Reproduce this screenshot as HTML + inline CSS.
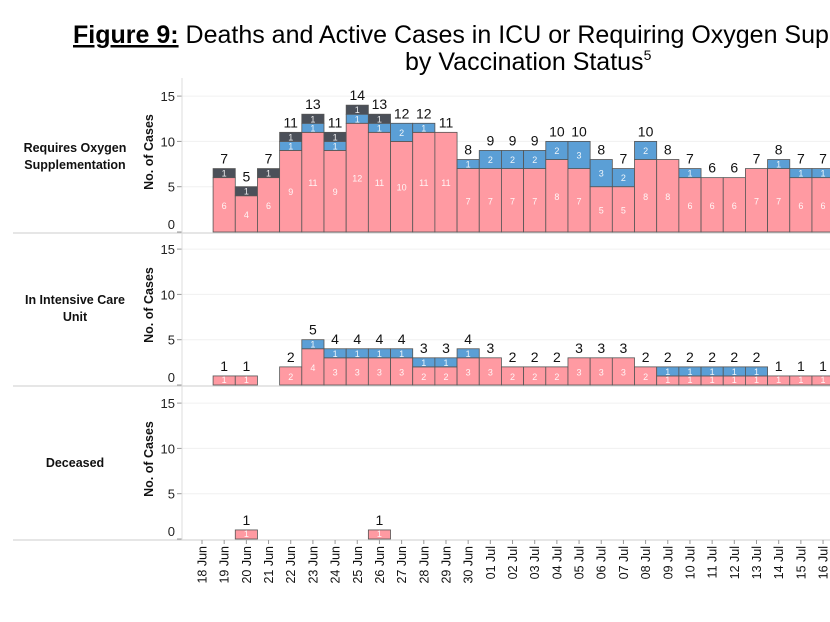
<!DOCTYPE html>
<html><head><meta charset="utf-8"><style>
body{margin:0;background:#fff;width:830px;height:622px;overflow:hidden}
svg{display:block;font-family:"Liberation Sans","DejaVu Sans",sans-serif}
</style></head><body>
<svg id="s" width="830" height="622" xmlns="http://www.w3.org/2000/svg">
<text x="73" y="43" font-size="25" fill="#000"><tspan font-weight="bold" text-decoration="underline">Figure 9:</tspan> Deaths and Active Cases in ICU or Requiring Oxygen Supplementation</text>
<text x="405" y="70" font-size="25" fill="#000">by Vaccination Status<tspan font-size="14" dy="-10">5</tspan></text>
</svg>
<script>
const s=document.getElementById('s');let h='';
const P='#ff9aa2',B='#5b9fd6',D='#4b5059';
const cx=i=>202+22.18*i, W=22.18;
const panels=[
 {base:232,name:['Requires Oxygen','Supplementation'],ly:[152,169],
  d:{1:[6,0,1],2:[4,0,1],3:[6,0,1],4:[9,1,1],5:[11,1,1],6:[9,1,1],7:[12,1,1],8:[11,1,1],9:[10,2,0],10:[11,1,0],11:[11,0,0],12:[7,1,0],13:[7,2,0],14:[7,2,0],15:[7,2,0],16:[8,2,0],17:[7,3,0],18:[5,3,0],19:[5,2,0],20:[8,2,0],21:[8,0,0],22:[6,1,0],23:[6,0,0],24:[6,0,0],25:[7,0,0],26:[7,1,0],27:[6,1,0],28:[6,1,0]}},
 {base:385,name:['In Intensive Care','Unit'],ly:[304,321],
  d:{1:[1,0,0],2:[1,0,0],4:[2,0,0],5:[4,1,0],6:[3,1,0],7:[3,1,0],8:[3,1,0],9:[3,1,0],10:[2,1,0],11:[2,1,0],12:[3,1,0],13:[3,0,0],14:[2,0,0],15:[2,0,0],16:[2,0,0],17:[3,0,0],18:[3,0,0],19:[3,0,0],20:[2,0,0],21:[1,1,0],22:[1,1,0],23:[1,1,0],24:[1,1,0],25:[1,1,0],26:[1,0,0],27:[1,0,0],28:[1,0,0]}},
 {base:539,name:['Deceased'],ly:[467],d:{2:[1,0,0],8:[1,0,0]}}
];
const k=45.3/5;
panels.forEach((p,pi)=>{
 const b=p.base;
 [0,5,10,15].forEach(v=>{const y=b-v*k;
  if(v>0)h+=`<line x1="182" x2="830" y1="${y}" y2="${y}" stroke="#f0f0f0"/>`;
  h+=`<line x1="177" x2="182" y1="${y}" y2="${y}" stroke="#999"/>`;
  h+=`<text x="175" y="${v?y+5:b-3}" font-size="13" text-anchor="end" fill="#222">${v}</text>`;});
 h+=`<text transform="translate(153,${b-80}) rotate(-90)" font-size="12.5" font-weight="bold" text-anchor="middle" fill="#111">No. of Cases</text>`;
 p.name.forEach((t,j)=>h+=`<text x="75" y="${p.ly[j]}" font-size="12.5" font-weight="bold" text-anchor="middle" fill="#111">${t}</text>`);
 for(const i in p.d){const [a,bl,dk]=p.d[i];const x=cx(+i)-W/2;let y=b;
  [[a,P],[bl,B],[dk,D]].forEach(([v,c])=>{if(!v)return;const hh=v*k;y-=hh;
   h+=`<rect x="${x}" y="${y}" width="${W}" height="${hh}" fill="${c}" stroke="#555" stroke-width="0.8"/>`;
   const ty=c==P?Math.min(y+hh/2+4,b-2):y+hh/2+3.5;
   h+=`<text x="${cx(+i)}" y="${ty}" font-size="${hh<8?8:9}" fill="#fff" text-anchor="middle" opacity="0.9">${v}</text>`;});
  h+=`<text x="${cx(+i)}" y="${y-5}" font-size="14" text-anchor="middle" fill="#111">${a+bl+dk}</text>`;}
 h+=`<line x1="13" x2="830" y1="${b+1}" y2="${b+1}" stroke="#ccc"/>`;
});
h+=`<line x1="182" x2="182" y1="78" y2="540" stroke="#ddd"/>`;
const lab=[];for(let i=18;i<=30;i++)lab.push(i+' Jun');for(let i=1;i<=16;i++)lab.push((i<10?'0':'')+i+' Jul');
lab.forEach((t,i)=>{const x=cx(i);h+=`<line x1="${x}" x2="${x}" y1="540" y2="544" stroke="#999"/>`;
 h+=`<text transform="translate(${x+4.5},546) rotate(-90)" font-size="12.5" text-anchor="end" fill="#111">${t}</text>`;});
s.insertAdjacentHTML('beforeend',h);
</script>
</body></html>
